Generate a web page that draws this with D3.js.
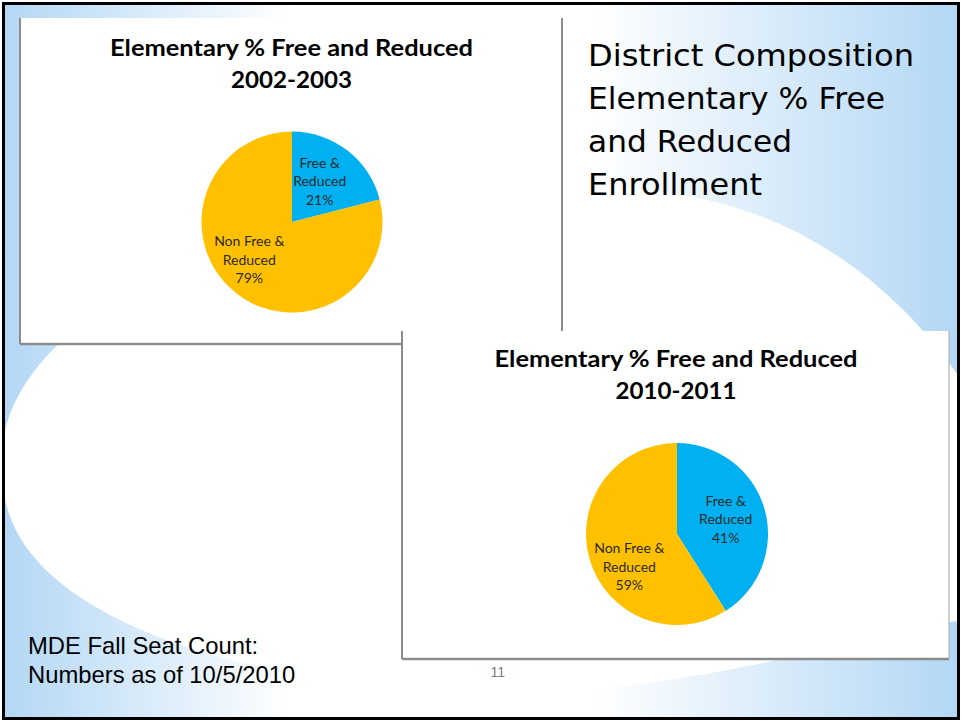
<!DOCTYPE html>
<html><head><meta charset="utf-8">
<script src="https://cdnjs.cloudflare.com/ajax/libs/d3/7.8.5/d3.min.js"></script>
<style>html,body{margin:0;padding:0;background:#fff;overflow:hidden}</style>
</head><body><svg id="c" width="961" height="721"></svg>
<script>
// ---- data ----
const categories = ["Free & Reduced", "Non Free & Reduced"];
const labelLines = [["Free &", "Reduced"], ["Non Free &", "Reduced"]];
const years = ["2002-2003", "2010-2011"];
const values2002 = [21, 79];
const values2010 = [41, 59];
const chartTitle = "Elementary % Free and Reduced";
const headingLines = ["District Composition", "Elementary % Free", "and Reduced", "Enrollment"];
const noteLines = ["MDE Fall Seat Count:", "Numbers as of 10/5/2010"];
const pageNumber = "11";
const sliceColors = ["#00B0F0", "#FFC000"];

// ---- layout ----
const charts = [
  {year: years[0], values: values2002, panel: {x: 20, y: 18, w: 542, h: 326},
   cx: 292, cy: 222, r: 90.5, titleX: 291.5, titleY: [56, 88], nudge: [[0, 0], [-15, 7]]},
  {year: years[1], values: values2010, panel: {x: 402, y: 331, w: 547, h: 328},
   cx: 677, cy: 534, r: 91, titleX: 676, titleY: [367, 399], nudge: [[5, 3], [-4, 25]]}
];

const svg = d3.select("#c");
const W = 961, H = 721;
const defs = svg.append("defs");
const g = defs.append("linearGradient").attr("id", "bg").attr("x1", 0).attr("x2", 1).attr("y1", 0).attr("y2", 0);
[[0, "#b3d7f5"], [0.3, "#ffffff"], [0.62, "#ffffff"], [1, "#b3d7f5"]].forEach(([o, c]) =>
  g.append("stop").attr("offset", o).attr("stop-color", c));

svg.append("rect").attr("width", W).attr("height", H).attr("fill", "#fff");
svg.append("rect").attr("x", 4).attr("y", 4).attr("width", W - 8).attr("height", H - 8).attr("fill", "url(#bg)");
// white swoosh
svg.append("path")
  .attr("d", "M 2,470 C -10,320 250,188 600,188 C 760,188 880,260 965,385 L 965,620 C 880,630 700,692 520,692 C 340,692 200,660 120,620 C 50,585 2,540 2,470 Z")
  .attr("fill", "#fff");

// heading text (right)
const heading = svg.append("g").attr("font-family", "'DejaVu Sans', Verdana, sans-serif").attr("font-size", 30.5).attr("fill", "#000");
const headW = [326, 297, 204, 174];
headingLines.forEach((t, i) => {
  heading.append("text").attr("x", 588).attr("y", 66 + i * 43).text(t)
    .attr("textLength", headW[i]).attr("lengthAdjust", "spacingAndGlyphs");
});

// note text
const note = svg.append("g").attr("font-family", "'Liberation Sans', Arial, sans-serif").attr("font-size", 23.8).attr("fill", "#000");
noteLines.forEach((t, i) => note.append("text").attr("x", 28).attr("y", 654 + i * 29).text(t));
svg.append("text").attr("x", 490.5).attr("y", 677).attr("font-family", "'Liberation Sans', Arial, sans-serif")
  .attr("font-size", 14).attr("fill", "#7a7a7a").text(pageNumber);

// charts
charts.forEach((c, ci) => {
  const p = c.panel;
  const pg = svg.append("g");
  pg.append("rect").attr("x", p.x).attr("y", p.y).attr("width", p.w).attr("height", p.h).attr("fill", "#fff");
  // borders
  pg.append("line").attr("x1", p.x).attr("x2", p.x).attr("y1", p.y).attr("y2", p.y + p.h).attr("stroke", "#8c8c8c").attr("stroke-width", 2);
  pg.append("line").attr("x1", p.x).attr("x2", p.x + p.w).attr("y1", p.y + p.h).attr("y2", p.y + p.h).attr("stroke", "#8c8c8c").attr("stroke-width", 2.5);
  pg.append("line").attr("x1", p.x + p.w).attr("x2", p.x + p.w).attr("y1", p.y).attr("y2", p.y + p.h)
    .attr("stroke", ci === 0 ? "#8c8c8c" : "#b0b0b0").attr("stroke-width", ci === 0 ? 2 : 1.2);

  // title
  const tg = pg.append("g").attr("font-family", "Lato, 'Open Sans', sans-serif").attr("font-weight", 700)
    .attr("font-size", 22.5).attr("fill", "#000").attr("text-anchor", "middle");
  tg.append("text").attr("x", c.titleX).attr("y", c.titleY[0]).text(chartTitle)
    .attr("textLength", 363).attr("lengthAdjust", "spacingAndGlyphs");
  tg.append("text").attr("x", c.titleX).attr("y", c.titleY[1]).text(c.year)
    .attr("textLength", 121).attr("lengthAdjust", "spacingAndGlyphs");

  // pie
  const pie = d3.pie().sort(null).value(d => d)(c.values);
  const arc = d3.arc().innerRadius(0).outerRadius(c.r);
  const gp = pg.append("g").attr("transform", `translate(${c.cx},${c.cy})`);
  gp.selectAll("path").data(pie).join("path")
    .attr("d", arc).attr("fill", (d, i) => sliceColors[i]);

  // labels
  gp.selectAll("g.lbl").data(pie).join("g").attr("class", "lbl")
    .attr("transform", (d, i) => {
      const [x, y] = arc.centroid(d);
      return `translate(${x + c.nudge[i][0]},${y + c.nudge[i][1]})`;
    })
    .each(function (d, i) {
      const lines = [...labelLines[i], d.data + "%"];
      const sel = d3.select(this).attr("font-family", "Lato, 'Open Sans', sans-serif")
        .attr("font-size", 14).attr("fill", "#2b2b2b").attr("text-anchor", "middle");
      lines.forEach((t, k) => sel.append("text").attr("x", 0).attr("y", (k - 1) * 18.5).text(t));
    });
});

// slide border
svg.append("rect").attr("x", 3.5).attr("y", 3.5).attr("width", W - 6).attr("height", H - 6)
  .attr("fill", "none").attr("stroke", "#000").attr("stroke-width", 3);
</script></body></html>
